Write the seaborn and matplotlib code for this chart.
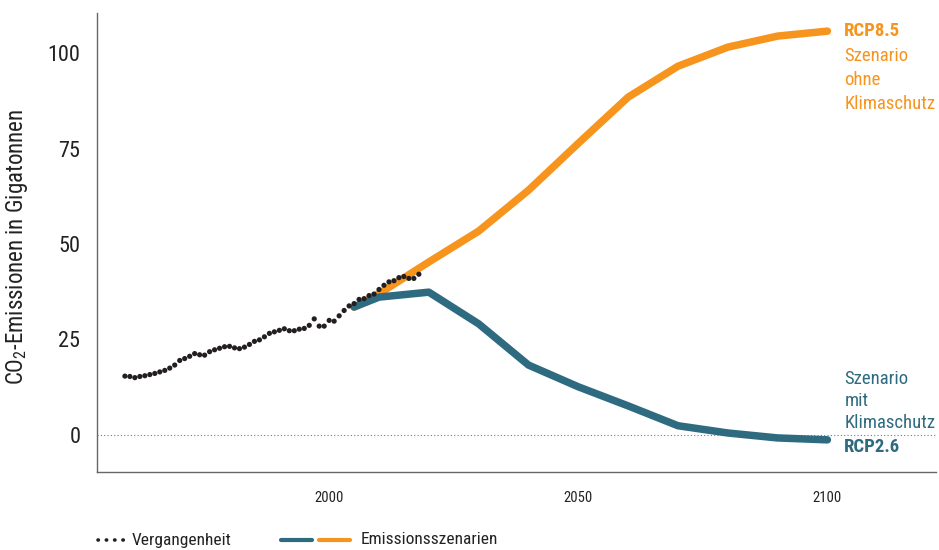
import pandas as pd
import seaborn as sns
import matplotlib.pyplot as plt
from matplotlib.lines import Line2D

# --- data ---
hist_years = list(range(1959, 2019))
hist_values = [15.4, 15.3, 15.0, 15.3, 15.5, 15.8, 16.1, 16.5, 16.9, 17.5,
               18.3, 19.5, 20.0, 20.6, 21.3, 21.0, 20.9, 21.8, 22.3, 22.7,
               23.1, 23.2, 22.8, 22.6, 23.0, 23.7, 24.5, 24.9, 25.7, 26.6,
               27.0, 27.4, 27.8, 27.3, 27.3, 27.7, 27.9, 28.7, 30.4, 28.5,
               28.5, 30.0, 29.8, 31.2, 32.6, 33.8, 34.4, 35.5, 35.7, 36.5,
               36.9, 38.1, 39.2, 40.1, 40.4, 41.2, 41.5, 41.0, 41.0, 42.1]

scen_years = [2005, 2010, 2020, 2030, 2040, 2050, 2060, 2070, 2080, 2090, 2100]
rcp85 = [33.5, 37.0, 45.3, 53.4, 64.1, 76.4, 88.5, 96.6, 101.6, 104.5, 105.8]
rcp26 = [33.5, 36.1, 37.4, 29.1, 18.3, 12.6, 7.6, 2.4, 0.5, -0.8, -1.3]

x_ticks = [2000, 2050, 2100]
y_ticks = [0, 25, 50, 75, 100]

ORANGE = "#F7941D"
BLUE = "#2F6B80"
DOTS = "#231F20"
GREY = "#666666"
TEXT = "#222222"

hist = pd.DataFrame({"year": hist_years, "value": hist_values})
scen = pd.DataFrame({"year": scen_years, "rcp85": rcp85, "rcp26": rcp26})

# --- style (font list set after seaborn) ---
sns.set_style("white")
plt.rcParams["font.family"] = ["Roboto Condensed", "Archivo Narrow", "Roboto", "DejaVu Sans"]
plt.rcParams["mathtext.fontset"] = "custom"
plt.rcParams["mathtext.rm"] = "Roboto Condensed"

fig = plt.figure(figsize=(9.39, 5.5), dpi=100)
ax = fig.add_axes([0.1033, 0.142, 0.893, 0.834])

# zero reference line
ax.axhline(0, color="#777777", linestyle=(0, (1, 2)), linewidth=0.8, zorder=1)

# scenario lines
sns.lineplot(data=scen, x="year", y="rcp85", ax=ax, color=ORANGE,
             linewidth=5.4, solid_capstyle="round", solid_joinstyle="round", zorder=2)
sns.lineplot(data=scen, x="year", y="rcp26", ax=ax, color=BLUE,
             linewidth=5.4, solid_capstyle="round", solid_joinstyle="round", zorder=3)

# historical dots
sns.scatterplot(data=hist, x="year", y="value", ax=ax, color=DOTS, s=14,
                edgecolor="none", zorder=4)

# axes
ax.set_xlim(1953.4, 2121.7)
ax.set_ylim(-9.7, 110.5)
ax.set_xticks(x_ticks)
ax.set_yticks(y_ticks)
ax.set_xlabel("")
ax.set_ylabel(r"CO$_2$-Emissionen in Gigatonnen", fontsize=16.5, color=TEXT)
ax.yaxis.set_label_coords(-0.08, 0.49)
ax.tick_params(axis="x", direction="out", length=10, width=0.8, color=GREY,
               labelsize=10.5, pad=4, labelcolor=TEXT)
ax.tick_params(axis="y", direction="out", length=8, width=0.8, color=GREY,
               labelsize=16, pad=4, labelcolor=TEXT)
for side in ["top", "right"]:
    ax.spines[side].set_visible(False)
for side in ["left", "bottom"]:
    ax.spines[side].set_color(GREY)
    ax.spines[side].set_linewidth(1.0)

# scenario labels
lx = 2103.4
fs = 13.5
ax.text(lx, 105.8, "RCP8.5", color=ORANGE, fontsize=fs, fontweight="bold", va="center")
for txt, yv in [("Szenario", 99.3), ("ohne", 93.0), ("Klimaschutz", 86.7)]:
    ax.text(lx, yv, txt, color=ORANGE, fontsize=fs, va="center")
for txt, yv in [("Szenario", 14.7), ("mit", 8.9), ("Klimaschutz", 3.2)]:
    ax.text(lx, yv, txt, color=BLUE, fontsize=fs, va="center")
ax.text(lx, -3.1, "RCP2.6", color=BLUE, fontsize=fs, fontweight="bold", va="center")

# legend at the bottom
fy = 1 - 540 / 550
fig.add_artist(Line2D([98 / 939, 126 / 939], [fy, fy], color=DOTS,
                      linestyle=(0, (0.1, 2.2)), linewidth=2.6, dash_capstyle="round"))
fig.text(132 / 939, fy, "Vergangenheit", fontsize=12.5, va="center", color=TEXT)
fig.add_artist(Line2D([281 / 939, 312 / 939], [fy, fy], color=BLUE, linewidth=3))
fig.add_artist(Line2D([319 / 939, 350 / 939], [fy, fy], color=ORANGE, linewidth=3))
fig.text(361 / 939, fy, "Emissionsszenarien", fontsize=12.5, va="center", color=TEXT)

fig.savefig("out.png", dpi=100)
